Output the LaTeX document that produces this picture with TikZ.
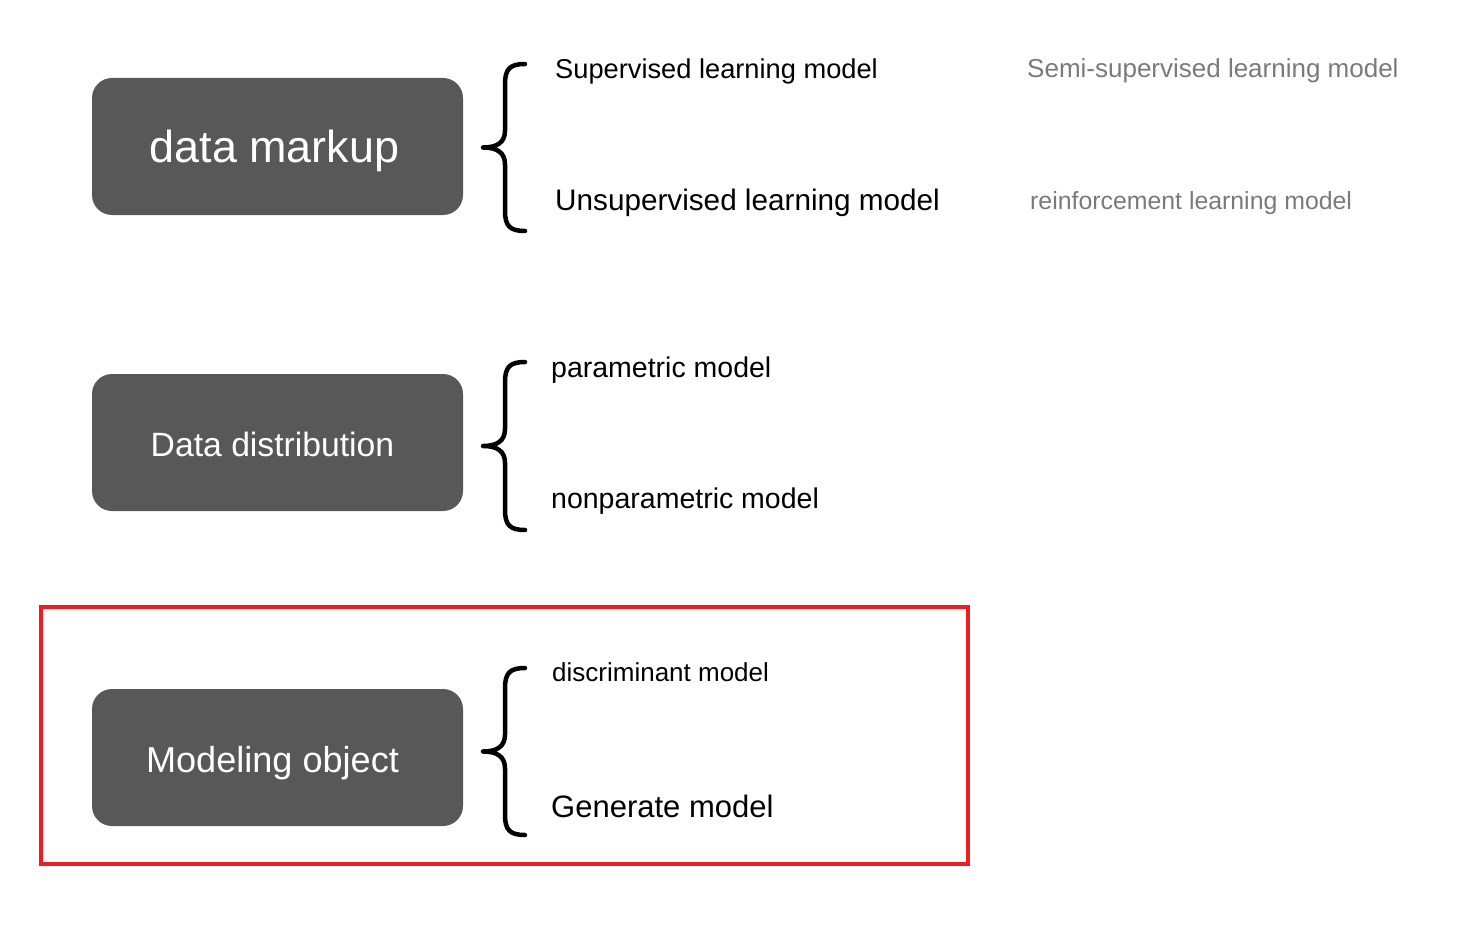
\documentclass[tikz,border=0pt]{standalone}
\usepackage{fontspec}
\setmainfont{Liberation Sans}
\usetikzlibrary{positioning,calc}
\definecolor{cBox}  {HTML}{585858}
\definecolor{cSide} {HTML}{7A7A7A}
\definecolor{cFrame}{HTML}{EE1C25}
\tikzset{
  catbox/.style={rounded corners=20pt,fill=cBox,inner sep=0pt,
                 minimum width=371pt,minimum height=137pt},
  cattxt/.style={anchor=base,inner sep=0pt,text=white},
  item/.style  ={anchor=base west,inner sep=0pt,font=\fontsize{28.5}{32}\selectfont},
  side/.style  ={item,text=cSide},
  brc/.style   ={line width=4.5pt,line cap=round,line join=round},
}
% curly brace opening to the right: x of the ends, top y, bottom y
\newcommand{\drawbrace}[3]{%
  \draw[brc] (#1,#2) .. controls ({#1-15},#2) and ({#1-20},{#2+5}) .. ({#1-20},{#2+20})
    -- ({#1-20},{(#2+#3)/2-17}) .. controls ({#1-20},{(#2+#3)/2-5}) and ({#1-28},{(#2+#3)/2}) .. ({#1-42},{(#2+#3)/2})
    .. controls ({#1-28},{(#2+#3)/2}) and ({#1-20},{(#2+#3)/2+5}) .. ({#1-20},{(#2+#3)/2+17})
    -- ({#1-20},{#3-20}) .. controls ({#1-20},{#3-5}) and ({#1-15},#3) .. (#1,#3);}
\begin{document}
\begin{tikzpicture}[x=1pt,y=-1pt]
    \useasboundingbox (0,0) rectangle (1461,936);
    % category boxes
    \node[catbox] (markup) at (277.5,146.5) {};
    \node[catbox] (distrib) at (277.5,442.5) {};
    \node[catbox] (modeling) at (277.5,757.5) {};
    \node[cattxt,font=\fontsize{44.9}{50}\selectfont] (markupT) at ($(markup)+(-3,16)$) {data markup};
    \node[cattxt,font=\fontsize{33.7}{40}\selectfont] (distribT) at ($(distrib)+(-5,13.5)$) {Data distribution};
    \node[cattxt,font=\fontsize{36.1}{42}\selectfont] (modelingT) at ($(modeling)+(-5,14.5)$) {Modeling object};
    % braces
    \drawbrace{525}{64}{231}
    \drawbrace{525}{362}{530}
    \drawbrace{525}{668}{835}
    % model kinds
    \node[item,font=\fontsize{27.25}{32}\selectfont] (sup) at (555,78.7) {Supervised learning model};
    \node[item,font=\fontsize{29.7}{34}\selectfont] (unsup) at (555,211) {Unsupervised learning model};
    \node[side,font=\fontsize{26}{30}\selectfont] (semi) at (1027,77.5) {Semi-supervised learning model};
    \node[side,font=\fontsize{24.85}{30}\selectfont] (reinf) at (1030,209) {reinforcement learning model};
    \node[item] (param) at (551,377) {parametric model};
    \node[item] (nonparam) at (551,508) {nonparametric model};
    \node[item,font=\fontsize{26}{30}\selectfont] (discr) at (552,681) {discriminant model};
    \node[item,font=\fontsize{31}{35}\selectfont] (gener) at (551,817) {Generate model};
    % highlight
    \draw[cFrame,line width=4pt] (41,607) rectangle (968,864);
  \end{tikzpicture}
\end{document}
